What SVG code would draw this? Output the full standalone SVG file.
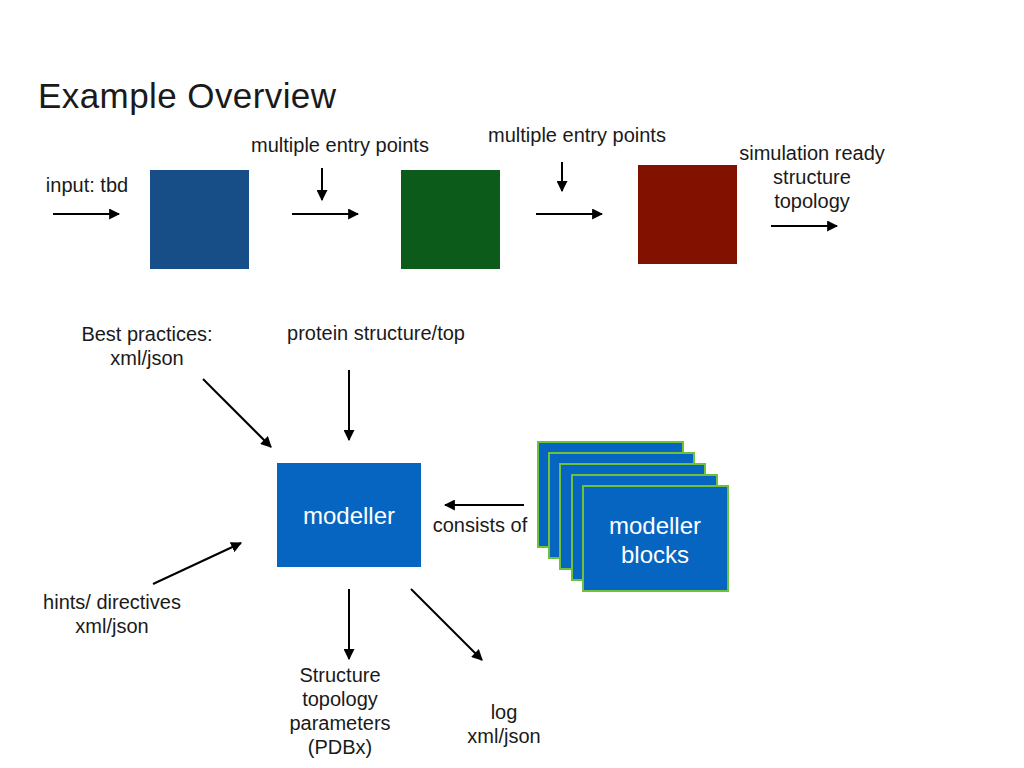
<svg xmlns="http://www.w3.org/2000/svg" width="1024" height="768" viewBox="0 0 1024 768">
<style>
text{font-family:"Liberation Sans",Arial,sans-serif;fill:#1a1a1a;}
.lbl{font-size:20px;text-anchor:middle;}
.w{fill:#fff;font-size:24px;text-anchor:middle;}
.c{stroke:#000;stroke-width:2;fill:none;marker-end:url(#ah);}
.blk{fill:#0565c0;stroke:#6fc03b;stroke-width:2;}
</style>
<defs>
<marker id="ah" viewBox="0 0 10 10" refX="9" refY="5" markerWidth="5.5" markerHeight="5.5" orient="auto" markerUnits="strokeWidth">
<path d="M0,0 L10,5 L0,10 z" fill="#000"/>
</marker>
</defs>
<rect width="1024" height="768" fill="#fff"/>
<text x="38" y="108" font-size="35" textLength="298">Example Overview</text>

<g id="stage1"><rect x="150" y="170" width="99" height="99" fill="#174e87"/></g>
<g id="stage2"><rect x="401" y="170" width="99" height="99" fill="#0d5b1a"/></g>
<g id="stage3"><rect x="638" y="165" width="99" height="99" fill="#831100"/></g>

<g id="modeller"><rect x="277" y="463" width="144" height="104" fill="#0565c0"/><text class="w" x="349" y="524">modeller</text></g>

<g id="modeller-blocks">
<rect class="blk" x="538" y="442" width="145" height="105"/>
<rect class="blk" x="549" y="453" width="145" height="105"/>
<rect class="blk" x="560" y="464" width="145" height="105"/>
<rect class="blk" x="572" y="475" width="145" height="105"/>
<rect class="blk" x="583" y="486" width="145" height="105"/>
<text class="w" x="655" y="534">modeller</text>
<text class="w" x="655" y="563">blocks</text>
</g>

<g id="connectors">
<line class="c" x1="53" y1="214" x2="119" y2="214"/>
<line class="c" x1="292" y1="214" x2="358" y2="214"/>
<line class="c" x1="322" y1="168" x2="322" y2="200"/>
<line class="c" x1="536" y1="214" x2="602" y2="214"/>
<line class="c" x1="562" y1="162" x2="562" y2="191"/>
<line class="c" x1="771" y1="226" x2="837" y2="226"/>
<line class="c" x1="203" y1="379" x2="271" y2="447"/>
<line class="c" x1="349" y1="370" x2="349" y2="440"/>
<line class="c" x1="153" y1="584" x2="241" y2="543"/>
<line class="c" x1="349" y1="589" x2="349" y2="659"/>
<line class="c" x1="411" y1="589" x2="482" y2="660"/>
<line class="c" x1="524" y1="505" x2="445" y2="505"/>
</g>

<g id="labels">
<text class="lbl" x="87" y="192">input: tbd</text>
<text class="lbl" x="340" y="152">multiple entry points</text>
<text class="lbl" x="577" y="142">multiple entry points</text>
<text class="lbl" x="812" y="160">simulation ready</text>
<text class="lbl" x="812" y="184">structure</text>
<text class="lbl" x="812" y="208">topology</text>
<text class="lbl" x="147" y="341">Best practices:</text>
<text class="lbl" x="147" y="365">xml/json</text>
<text class="lbl" x="376" y="340">protein structure/top</text>
<text class="lbl" x="112" y="609">hints/ directives</text>
<text class="lbl" x="112" y="633">xml/json</text>
<text class="lbl" x="340" y="682">Structure</text>
<text class="lbl" x="340" y="706">topology</text>
<text class="lbl" x="340" y="730">parameters</text>
<text class="lbl" x="340" y="754">(PDBx)</text>
<text class="lbl" x="504" y="719">log</text>
<text class="lbl" x="504" y="743">xml/json</text>
<text class="lbl" x="480" y="532">consists of</text>
</g>
</svg>
